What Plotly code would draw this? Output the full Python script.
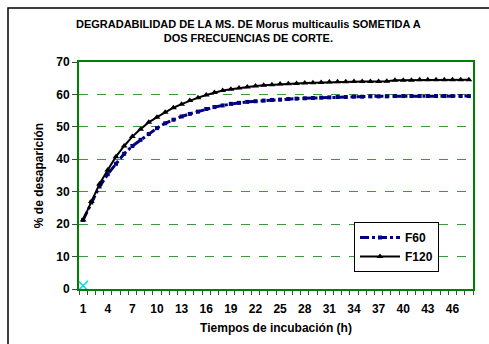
import plotly.graph_objects as go

horas = list(range(1, 49))
f60 = [21.3, 26.7, 31.6, 35.4, 38.6, 41.7, 44.1, 46.0, 47.8, 49.6, 51.1, 52.2,
       53.2, 54.0, 54.7, 55.5, 56.1, 56.6, 57.1, 57.4, 57.7, 57.9, 58.1, 58.3,
       58.4, 58.6, 58.7, 58.8, 58.9, 59.0, 59.1, 59.2, 59.2, 59.3, 59.3, 59.4,
       59.4, 59.4, 59.5, 59.5, 59.5, 59.5, 59.5, 59.5, 59.5, 59.5, 59.5, 59.5]
f120 = [21.3, 27.0, 32.4, 36.7, 40.8, 44.1, 47.0, 49.3, 51.4, 53.0, 54.5, 55.9,
        57.0, 58.1, 59.0, 59.8, 60.6, 61.2, 61.6, 62.0, 62.3, 62.6, 62.8, 63.0,
        63.2, 63.3, 63.4, 63.5, 63.6, 63.7, 63.8, 63.9, 63.9, 64.0, 64.0, 64.0,
        64.0, 64.1, 64.4, 64.4, 64.4, 64.5, 64.5, 64.5, 64.5, 64.5, 64.5, 64.5]
extra_x = [1]
extra_y = [1.0]
tick_labels = [1, 4, 7, 10, 13, 16, 19, 22, 25, 28, 31, 34, 37, 40, 43, 46]

FONT = "Liberation Sans, Arial, sans-serif"
GREEN = "#008000"
GRID = "#3a9a3a"

fig = go.Figure()
fig.add_trace(go.Scatter(
    x=horas, y=f60, name="F60", mode="lines+markers",
    line=dict(color="#000080", width=3, dash="dashdot"),
    marker=dict(symbol="square", size=4, color="#000080"),
))
fig.add_trace(go.Scatter(
    x=horas, y=f120, name="F120", mode="lines+markers",
    line=dict(color="#000000", width=2),
    marker=dict(symbol="triangle-up", size=6, color="#000000"),
))
fig.add_trace(go.Scatter(
    x=extra_x, y=extra_y, mode="markers", showlegend=False,
    marker=dict(symbol="x-thin", size=10, line=dict(color="#00DDDD", width=1.5)),
))

L, R, T, B = 79, 16, 62, 55
W, H = 489, 344
pw, ph = W - L - R, H - T - B

def px(x):
    return (x - L) / pw

def py(y):
    return (H - B - y) / ph

fig.update_layout(
    width=W, height=H,
    margin=dict(l=L, r=R, t=T, b=B),
    paper_bgcolor="white", plot_bgcolor="white",
    font=dict(family=FONT, size=12, color="black"),
    showlegend=True,
    legend=dict(
        x=px(354), y=py(222), xanchor="left", yanchor="top",
        bordercolor="black", borderwidth=1, bgcolor="white",
        font=dict(family=FONT, size=12, color="black", weight="bold"),
        itemwidth=40, tracegroupgap=4,
    ),
    xaxis=dict(
        range=[0.5, 48.5], tickvals=tick_labels, ticktext=[str(t) for t in tick_labels],
        ticks="", showgrid=False, zeroline=False,
        showline=True, linecolor=GREEN, linewidth=2, mirror=True,
        tickfont=dict(family=FONT, size=12, weight="bold"),
        ticklabelstandoff=8,
        minor=dict(tickvals=[i + 0.5 for i in range(0, 49)], ticks="outside",
                   ticklen=4, tickcolor="#444444", tickwidth=1, showgrid=False),
        title=dict(text="Tiempos de incubación (h)",
                   font=dict(family=FONT, size=12, weight="bold"), standoff=8),
    ),
    yaxis=dict(
        range=[0, 70], dtick=10, ticks="outside", ticklen=5, tickcolor="#444444",
        showgrid=True, gridcolor=GRID, griddash="dash", gridwidth=1,
        zeroline=False,
        showline=True, linecolor=GREEN, linewidth=2, mirror=True,
        tickfont=dict(family=FONT, size=12, weight="bold"),
        title=dict(text="% de desaparición",
                   font=dict(family=FONT, size=12, weight="bold"), standoff=10),
    ),
    shapes=[dict(type="rect", xref="paper", yref="paper",
                 x0=px(8), x1=px(520), y0=py(8), y1=py(400),
                 line=dict(color="black", width=1.5), fillcolor="rgba(0,0,0,0)")],
    annotations=[dict(
        text="DEGRADABILIDAD DE LA MS. DE Morus multicaulis SOMETIDA A<br>DOS FRECUENCIAS DE CORTE.",
        xref="paper", yref="paper", x=px(248), y=py(31),
        xanchor="center", yanchor="middle", showarrow=False,
        font=dict(family=FONT, size=11, weight="bold"), align="center",
    )],
)

fig.write_html("out.html")
